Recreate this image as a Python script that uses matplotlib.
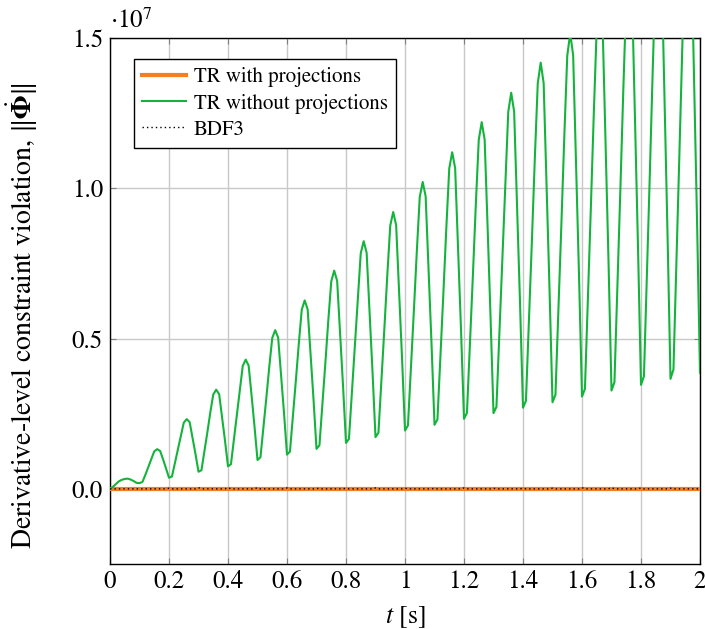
import numpy as np
import matplotlib
matplotlib.use("Agg")
import matplotlib.pyplot as plt

plt.rcParams['font.family'] = ['STIXGeneral', 'DejaVu Serif']
plt.rcParams['mathtext.fontset'] = 'stix'
plt.rcParams['font.size'] = 15

# time samples, dt = 0.01 s
t = np.round(np.arange(0, 201) * 0.01, 2)

# TR without projections, in units of 1e7 (one row per 0.1 s)
tr_without = [
    0.000, 0.007, 0.016, 0.025, 0.030, 0.033, 0.034, 0.031, 0.026, 0.020,
    0.019, 0.023, 0.047, 0.073, 0.100, 0.125, 0.132, 0.126, 0.098, 0.068,
    0.037, 0.041, 0.086, 0.131, 0.177, 0.220, 0.232, 0.222, 0.169, 0.115,
    0.057, 0.062, 0.125, 0.188, 0.254, 0.314, 0.330, 0.315, 0.238, 0.159,
    0.075, 0.082, 0.164, 0.245, 0.331, 0.409, 0.430, 0.410, 0.310, 0.206,
    0.096, 0.105, 0.204, 0.303, 0.407, 0.502, 0.528, 0.503, 0.379, 0.251,
    0.114, 0.124, 0.242, 0.360, 0.483, 0.596, 0.627, 0.597, 0.449, 0.296,
    0.133, 0.145, 0.281, 0.418, 0.560, 0.690, 0.726, 0.692, 0.520, 0.342,
    0.153, 0.166, 0.321, 0.475, 0.636, 0.784, 0.824, 0.785, 0.589, 0.387,
    0.172, 0.187, 0.359, 0.532, 0.711, 0.876, 0.921, 0.877, 0.659, 0.434,
    0.194, 0.211, 0.401, 0.591, 0.789, 0.971, 1.021, 0.973, 0.730, 0.480,
    0.213, 0.231, 0.440, 0.648, 0.866, 1.066, 1.120, 1.067, 0.801, 0.526,
    0.233, 0.253, 0.480, 0.707, 0.944, 1.161, 1.220, 1.162, 0.872, 0.571,
    0.252, 0.273, 0.519, 0.764, 1.020, 1.254, 1.318, 1.255, 0.941, 0.616,
    0.270, 0.293, 0.557, 0.821, 1.097, 1.349, 1.418, 1.350, 1.011, 0.661,
    0.288, 0.313, 0.595, 0.877, 1.171, 1.441, 1.515, 1.443, 1.080, 0.706,
    0.307, 0.333, 0.634, 0.935, 1.249, 1.537, 1.615, 1.538, 1.151, 0.752,
    0.327, 0.355, 0.674, 0.993, 1.326, 1.631, 1.714, 1.632, 1.222, 0.797,
    0.346, 0.375, 0.713, 1.050, 1.402, 1.725, 1.813, 1.726, 1.292, 0.844,
    0.366, 0.397, 0.752, 1.108, 1.479, 1.819, 1.912, 1.820, 1.363, 0.890,
    0.386,
]

# TR with projections stays at zero
tr_with = [0.0] * len(t)

# BDF3: zero with tiny bumps every 0.1 s
bdf3_bump_t = [0.2, 0.3, 0.4, 0.5, 0.6, 0.7, 0.8, 0.9, 1.0, 1.1, 1.2, 1.3,
               1.4, 1.5, 1.6, 1.7, 1.8, 1.9]
bdf3_bump_y = [0.002, 0.004, 0.004, 0.004, 0.003, 0.002, 0.002, 0.003, 0.002,
               0.002, 0.003, 0.002, 0.002, 0.002, 0.004, 0.004, 0.003, 0.002]
bdf3 = np.zeros(len(t))
for bt, by in zip(bdf3_bump_t, bdf3_bump_y):
    bdf3[int(round(bt * 100))] = by

xticks = [0, 0.2, 0.4, 0.6, 0.8, 1.0, 1.2, 1.4, 1.6, 1.8, 2.0]
xlabels = ['0', '0.2', '0.4', '0.6', '0.8', '1', '1.2', '1.4', '1.6', '1.8', '2']
yticks = [0.0, 0.5, 1.0, 1.5]
ylabels = ['0.0', '0.5', '1.0', '1.5']

fig = plt.figure(figsize=(7.05, 6.29), dpi=100)
ax = fig.add_axes([110 / 705, 65 / 629, 590 / 705, 526 / 629])

ax.plot(t, tr_with, color='#f57f20', lw=3.0, label='TR with projections', zorder=3)
ax.plot(t, tr_without, color='#14b43c', lw=1.5, label='TR without projections', zorder=4)
ax.plot(t, bdf3, color='black', lw=1.0, dashes=(1, 2.2), label='BDF3', zorder=5)

ax.set_xlim(0, 2)
ax.set_ylim(-0.25, 1.5)
ax.set_xticks(xticks)
ax.set_xticklabels(xlabels)
ax.set_yticks(yticks)
ax.set_yticklabels(ylabels)

ax.grid(True, color='#c8c8c8', lw=1.0)
ax.set_axisbelow(True)
ax.tick_params(direction='in', length=4, color='#808080', top=True, right=True,
               labelsize=18)
ax.tick_params(axis='x', pad=4)
ax.tick_params(axis='y', pad=5)
for s in ax.spines.values():
    s.set_color('black')
    s.set_linewidth(1.0)

ax.set_xlabel(r'$t$ [s]', fontsize=18.5)
ax.xaxis.set_label_coords(0.5, -0.076)
ax.set_ylabel(r'Derivative-level constraint violation, $\|\dot{\mathbf{\Phi}}\|$',
              fontsize=20)
ax.yaxis.set_label_coords(-0.118, 0.473)

ax.text(0.0, 1.008, r'$\cdot 10^{7}$', transform=ax.transAxes, fontsize=18,
        ha='left', va='bottom')

leg = ax.legend(loc='upper left', bbox_to_anchor=(0.04, 0.96), fancybox=False,
                edgecolor='black', framealpha=1, fontsize=15, handlelength=2.1,
                handletextpad=0.4, borderpad=0.4, labelspacing=0.3,
                borderaxespad=0)
leg.get_frame().set_linewidth(1.0)

fig.savefig('out.png', dpi=100)
